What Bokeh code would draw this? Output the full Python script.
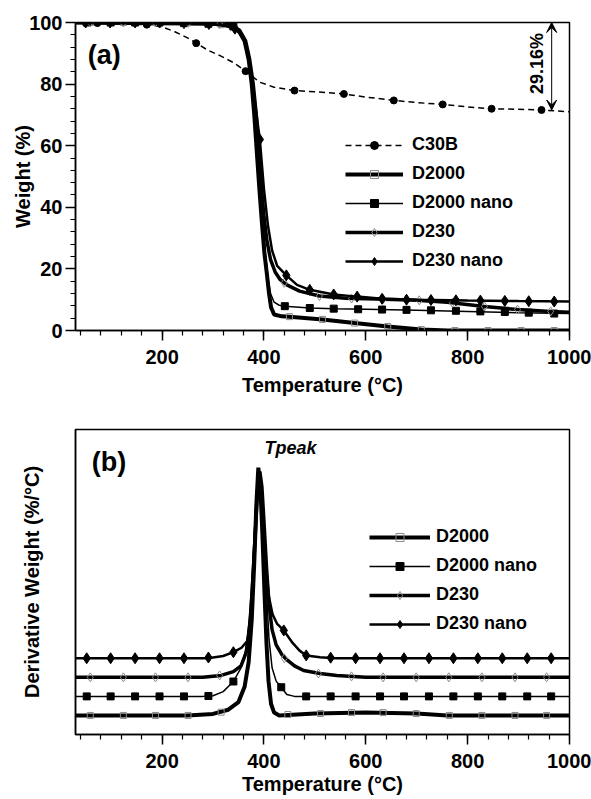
import numpy as np
from bokeh.plotting import figure
from bokeh.layouts import column
from bokeh.models import (Range1d, SingleIntervalTicker, FixedTicker, Legend, LegendItem,
                          Arrow, VeeHead, Label)
from bokeh.embed import file_html
from bokeh.resources import INLINE

FONT = "Liberation Sans"

# ---------------- (a) TGA: weight (%) vs temperature (C) ----------------
c30b_t = [30, 120, 170, 200, 225, 250, 267, 290, 313, 340, 364, 392, 420, 460, 500, 557, 600, 655, 700, 751, 800, 847, 900, 945, 1000]
c30b_w = [100, 99.7, 99.3, 98.6, 97, 95, 93.3, 91, 89.3, 87, 84.2, 80.6, 79, 77.9, 77.5, 76.8, 75.8, 74.7, 74, 73.4, 72.6, 72.0, 71.8, 71.6, 71.0]
c30b_mt = [73, 170, 267, 364, 460, 557, 655, 751, 847, 945]
c30b_mw = [99.8, 99.3, 93.3, 84.2, 77.9, 76.8, 74.7, 73.4, 72.0, 71.6]

d2000_t = [30, 300, 335, 350, 362, 370, 376, 381, 386, 391, 396, 401, 406, 410, 414, 420, 435, 450, 515, 578, 643, 709, 760, 1000]
d2000_w = [100, 99.6, 99, 97.5, 94, 88, 80, 70, 58, 46, 35, 25, 18, 12, 7.5, 5.2, 4.6, 4.5, 3.6, 2.4, 1.3, 0.3, 0, 0]
d2000_mt = [59, 124, 187, 251, 316, 450, 515, 578, 643, 709, 775, 840, 905, 970]
d2000_mw = [100, 100, 100, 99.9, 99.3, 4.5, 3.6, 2.4, 1.3, 0.3, 0, 0, 0, 0]

d2000n_t = [30, 300, 335, 350, 362, 370, 377, 383, 388, 393, 398, 403, 408, 413, 420, 430, 441, 490, 537, 600, 700, 800, 900, 1000]
d2000n_w = [100, 99.6, 99, 97.5, 94.5, 89, 81, 70, 58, 46, 35, 25, 17, 12, 9.2, 8.2, 7.9, 7.3, 7.1, 6.9, 6.6, 6.2, 5.8, 5.5]
d2000n_mt = [52, 99, 147, 195, 243, 291, 340, 441, 490, 537, 585, 632, 680, 728, 777, 825, 873, 920, 970]
d2000n_mw = [100, 100, 100, 100, 99.8, 99.6, 98.7, 7.9, 7.3, 7.1, 6.9, 6.8, 6.7, 6.55, 6.4, 6.2, 6.0, 5.8, 5.5]

d230_t = [30, 300, 335, 352, 364, 372, 379, 385, 390, 395, 400, 406, 413, 422, 432, 445, 470, 509, 560, 620, 700, 760, 833, 898, 963, 1000]
d230_w = [100, 99.7, 99.2, 97.5, 94, 88, 80, 70, 58, 47, 37, 29, 23, 19, 16.5, 14.8, 12.8, 11.2, 10.5, 10.2, 9.8, 9.2, 7.8, 6.8, 6.2, 5.9]
d230_mt = [59, 124, 187, 251, 313, 440, 509, 572, 634, 705, 770, 833, 898, 963]
d230_mw = [100, 100, 100, 99.9, 99.5, 15.5, 11.2, 10.4, 10.2, 9.8, 9.0, 7.8, 6.8, 6.2]

d230n_t = [30, 250, 292, 320, 343, 358, 368, 376, 384, 392, 400, 408, 416, 426, 444, 465, 490, 537, 583, 632, 700, 800, 900, 1000]
d230n_w = [100, 99.8, 99.5, 99.0, 98, 95.5, 91, 83, 72, 62, 46, 34, 26, 21, 17.9, 14.8, 13.2, 11.7, 11.0, 10.3, 10.0, 9.75, 9.55, 9.4]
d230n_mt = [50, 98, 147, 195, 243, 292, 343, 392, 444, 490, 537, 583, 632, 680, 728, 777, 825, 873, 920, 970]
d230n_mw = [100, 100, 100, 100, 99.8, 99.5, 98, 62, 17.9, 13.2, 11.7, 11.0, 10.3, 10.0, 9.9, 9.8, 9.7, 9.6, 9.5, 9.4]

residue_label = "29.16%"

# ---------------- (b) DTG: derivative weight (a.u., each above its own baseline) ----------------
b_d2000_t = [30, 250, 300, 330, 350, 362, 370, 376, 381, 385, 389, 393, 397, 401, 405, 409, 414, 420, 430, 500, 600, 700, 760, 1000]
b_d2000_v = [0, 0, 0.08, 0.3, 0.7, 1.5, 2.8, 5.0, 8.0, 11.0, 13.0, 12.0, 9.5, 6.5, 3.8, 1.8, 0.6, 0.15, 0.0, 0.1, 0.15, 0.1, 0.0, 0.0]
b_d2000_mt = [59, 124, 187, 251, 316, 447, 511, 572, 634, 699, 764, 828, 893, 955]
b_d2000_mv = [0, 0, 0, 0, 0.17, 0.05, 0.1, 0.15, 0.15, 0.1, 0, 0, 0, 0]

b_d2000n_t = [30, 280, 300, 320, 340, 355, 364, 372, 378, 384, 390, 395, 400, 405, 410, 416, 424, 434, 445, 460, 1000]
b_d2000n_v = [0, 0, 0.03, 0.25, 0.78, 1.5, 2.4, 4.2, 7.0, 10.0, 11.8, 11.0, 8.5, 5.5, 3.0, 1.5, 0.8, 0.48, 0.1, 0, 0]
b_d2000n_mt = [52, 99, 147, 195, 243, 291, 340, 434, 483, 531, 580, 628, 675, 724, 772, 820, 868, 917, 964]
b_d2000n_mv = [0, 0, 0, 0, 0, 0.02, 0.78, 0.48, 0, 0, 0, 0, 0, 0, 0, 0, 0, 0, 0]

b_d230_t = [30, 280, 316, 340, 355, 365, 371, 377, 383, 388, 392, 396, 400, 405, 410, 416, 424, 435, 446, 460, 478, 510, 543, 600, 1000]
b_d230_v = [0, 0, 0.1, 0.3, 0.6, 1.3, 2.3, 4.5, 7.5, 10.0, 10.8, 10.0, 8.2, 5.8, 3.8, 2.5, 1.7, 1.2, 0.9, 0.6, 0.36, 0.2, 0.1, 0.0, 0.0]
b_d230_mt = [59, 124, 187, 251, 313, 440, 507, 572, 634, 699, 763, 828, 893, 955]
b_d230_mv = [0, 0, 0, 0, 0.1, 1.0, 0.2, 0.05, 0, 0, 0, 0, 0, 0]

b_d230n_t = [30, 290, 320, 340, 356, 368, 374, 379, 384, 389, 394, 399, 404, 410, 417, 426, 439, 455, 470, 483, 510, 540, 1000]
b_d230n_v = [0, 0, 0.12, 0.32, 0.55, 0.93, 2.15, 4.5, 7.5, 9.8, 9.0, 7.0, 4.8, 3.2, 2.3, 1.8, 1.46, 0.85, 0.4, 0.15, 0.05, 0, 0]
b_d230n_mt = [52, 99, 147, 195, 243, 291, 340, 439, 483, 531, 580, 628, 675, 724, 772, 820, 868, 917, 964]
b_d230n_mv = [0, 0, 0, 0, 0, 0.04, 0.32, 1.46, 0.15, 0.03, 0, 0, 0, 0, 0, 0, 0, 0, 0]

b_offsets = [1, 2, 3, 4]  # vertical stacking of the DTG curves
series_names = ["D2000", "D2000 nano", "D230", "D230 nano"]


def style_axes(p, xlabel, ylabel):
    p.xgrid.visible = False
    p.ygrid.visible = False
    p.outline_line_color = "black"
    p.outline_line_width = 1.5
    p.outline_line_alpha = 1.0
    for ax in p.xaxis + p.yaxis:
        ax.axis_line_width = 1.5
        ax.axis_line_color = "black"
        ax.major_tick_line_color = "black"
        ax.minor_tick_line_color = "black"
        ax.major_tick_line_width = 1.5
        ax.minor_tick_line_width = 1.2
        ax.major_tick_in = 0
        ax.minor_tick_in = 0
        ax.major_tick_out = 10
        ax.minor_tick_out = 5
        ax.major_label_text_font = FONT
        ax.major_label_text_font_style = "bold"
        ax.major_label_text_font_size = "20px"
        ax.major_label_text_color = "black"
        ax.axis_label_text_font = FONT
        ax.axis_label_text_font_style = "bold"
        ax.axis_label_text_font_size = "20px"
        ax.axis_label_text_color = "black"
    p.xaxis.axis_label = xlabel
    p.yaxis.axis_label = ylabel
    p.xaxis.ticker = SingleIntervalTicker(interval=200, num_minor_ticks=5)
    p.xaxis.major_label_standoff = 9


def make_legend(items, loc, glyph_w, standoff, spacing):
    lg = Legend(items=items, location=loc, orientation="vertical",
                glyph_width=glyph_w, glyph_height=20, label_height=20,
                label_standoff=standoff, spacing=spacing, padding=0, margin=0,
                border_line_color=None, background_fill_alpha=0,
                label_text_font=FONT, label_text_font_style="bold",
                label_text_font_size="18px", label_text_color="black")
    return lg


# ---------------- panel (a) ----------------
p1 = figure(width=591, height=398, x_range=Range1d(30, 1000), y_range=Range1d(0, 100),
            output_backend="svg", toolbar_location=None,
            min_border_left=75, min_border_right=20, min_border_top=22, min_border_bottom=68)
style_axes(p1, "Temperature (°C)", "Weight (%)")
p1.yaxis.ticker = SingleIntervalTicker(interval=20, num_minor_ticks=5)
p1.yaxis.major_label_standoff = 3
p1.yaxis.axis_label_standoff = -8
p1.xaxis.axis_label_standoff = 7

GRAY = "#8a8a8a"
l_c30b = p1.line(c30b_t, c30b_w, line_color="black", line_width=1.5, line_dash="6 4")
m_c30b = p1.scatter(c30b_mt, c30b_mw, marker="circle", size=7, color="black")
l_d2000 = p1.line(d2000_t, d2000_w, line_color="black", line_width=4)
m_d2000 = p1.scatter(d2000_mt, d2000_mw, marker="square", size=6, line_color=GRAY, fill_color=None, line_width=1)
l_d2000n = p1.line(d2000n_t, d2000n_w, line_color="black", line_width=1.5)
m_d2000n = p1.scatter(d2000n_mt, d2000n_mw, marker="square", size=7, color="black")
l_d230 = p1.line(d230_t, d230_w, line_color="black", line_width=3.5)
m_d230 = p1.scatter(d230_mt, d230_mw, marker="diamond", size=9, line_color=GRAY, fill_color=None, line_width=1)
l_d230n = p1.line(d230n_t, d230n_w, line_color="black", line_width=2.5)
m_d230n = p1.scatter(d230n_mt, d230n_mw, marker="diamond", size=11, color="black")

items1 = [
    LegendItem(label="C30B", renderers=[l_c30b, m_c30b]),
    LegendItem(label="D2000", renderers=[l_d2000, m_d2000]),
    LegendItem(label="D2000 nano", renderers=[l_d2000n, m_d2000n]),
    LegendItem(label="D230", renderers=[l_d230, m_d230]),
    LegendItem(label="D230 nano", renderers=[l_d230n, m_d230n]),
]
p1.add_layout(make_legend(items1, (270, 59), 58, 9, 8), "center")

p1.add_layout(Label(x=54, y=89.3, text="(a)", text_font=FONT, text_font_style="bold",
                    text_font_size="27px", text_baseline="middle", text_color="black"))
p1.add_layout(Arrow(x_start=965, y_start=c30b_w[-2], x_end=965, y_end=100,
                    start=VeeHead(size=10, fill_color="black", line_color="black", line_width=1),
                    end=VeeHead(size=10, fill_color="black", line_color="black", line_width=1),
                    line_color="black", line_width=1))
p1.add_layout(Label(x=937, y=86.7, text=residue_label, angle=90, angle_units="deg",
                    text_align="center", text_baseline="middle", text_font=FONT,
                    text_font_style="bold", text_font_size="18px", text_color="black"))

# ---------------- panel (b) ----------------
p2 = figure(width=591, height=400, x_range=Range1d(30, 1000), y_range=Range1d(0, 16),
            output_backend="svg", toolbar_location=None,
            min_border_left=74, min_border_right=22, min_border_top=31, min_border_bottom=64)
style_axes(p2, "Temperature (°C)", "Derivative Weight (%/°C)")
p2.yaxis.ticker = FixedTicker(ticks=[])
p2.yaxis.major_tick_out = 0
p2.yaxis.minor_tick_out = 0
p2.yaxis.axis_label_standoff = 33
p2.xaxis.axis_label_standoff = 2

lw = [4, 1.5, 3.5, 2.5]
b_lines_t = [b_d2000_t, b_d2000n_t, b_d230_t, b_d230n_t]
b_lines_v = [b_d2000_v, b_d2000n_v, b_d230_v, b_d230n_v]
b_mk_t = [b_d2000_mt, b_d2000n_mt, b_d230_mt, b_d230n_mt]
b_mk_v = [b_d2000_mv, b_d2000n_mv, b_d230_mv, b_d230n_mv]
mk_style = [
    dict(marker="square", size=6, line_color=GRAY, fill_color=None, line_width=1),
    dict(marker="square", size=7, color="black"),
    dict(marker="diamond", size=9, line_color=GRAY, fill_color=None, line_width=1),
    dict(marker="diamond", size=11, color="black"),
]
items2 = []
for i in range(4):
    off = b_offsets[i]
    lr = p2.line(b_lines_t[i], np.array(b_lines_v[i]) + off, line_color="black", line_width=lw[i])
    mr = p2.scatter(b_mk_t[i], np.array(b_mk_v[i]) + off, **mk_style[i])
    items2.append(LegendItem(label=series_names[i], renderers=[lr, mr]))
p2.add_layout(make_legend(items2, (294, 100), 61, 6, 8), "center")

p2.add_layout(Label(x=62, y=14.3, text="(b)", text_font=FONT, text_font_style="bold",
                    text_font_size="27px", text_baseline="middle", text_color="black"))
p2.add_layout(Label(x=452, y=15.05, text="Tpeak", text_font=FONT, text_font_style="bold italic",
                    text_font_size="18px", text_align="center", text_baseline="middle",
                    text_color="black"))

layout = column(p1, p2, spacing=0)
open("out.html", "w").write(file_html(layout, INLINE))
